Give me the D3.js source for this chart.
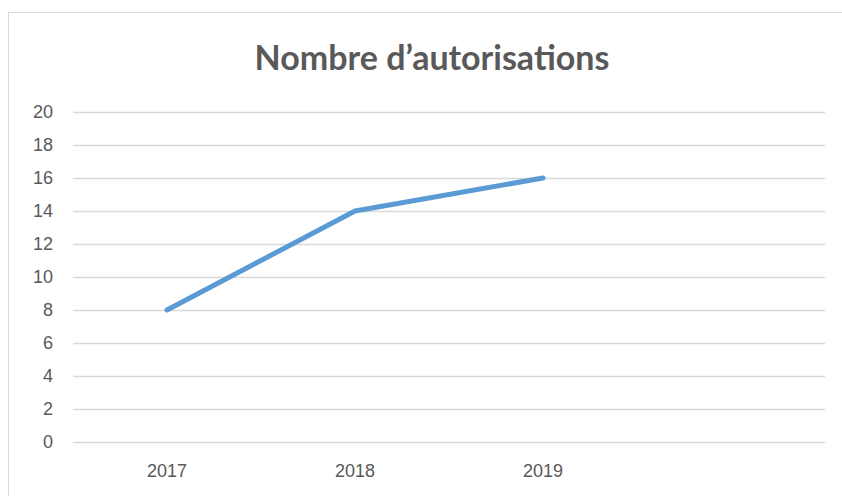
<!DOCTYPE html>
<html>
<head>
<meta charset="utf-8">
<script src="https://cdn.jsdelivr.net/npm/d3@7"></script>
<style>
  body { margin: 0; background: #fff; }
  svg { display: block; font-family: Lato, "Open Sans", sans-serif; }
</style>
</head>
<body>
<svg id="chart" width="842" height="496"></svg>
<script>
const title = "Nombre d\u2019autorisations"
const categories = ["2017", "2018", "2019", ""]
const values = [8, 14, 16]
const yTicks = [0, 2, 4, 6, 8, 10, 12, 14, 16, 18, 20]

const svg = d3.select("#chart")
const margin = {top: 112, right: 17, bottom: 54, left: 73}
const width = 842 - margin.left - margin.right
const height = 496 - margin.top - margin.bottom

// chart frame
svg.append("rect")
  .attr("x", 8.5).attr("y", 12.5)
  .attr("width", 900).attr("height", 600)
  .attr("fill", "#fff")
  .attr("stroke", "#d9d9d9")

svg.append("text")
  .attr("x", 432).attr("y", 70)
  .attr("text-anchor", "middle")
  .attr("font-size", 34)
  .attr("font-weight", "bold")
  .attr("fill", "#595959")
  .text(title)

const g = svg.append("g").attr("transform", `translate(${margin.left},${margin.top})`)

const x = d3.scaleBand().domain(categories.map((c, i) => i)).range([0, width])
const y = d3.scaleLinear().domain([0, 20]).range([height, 0])

const yAxis = g.append("g").call(d3.axisLeft(y).tickValues(yTicks).tickSize(-width).tickPadding(20))
yAxis.select(".domain").remove()
yAxis.selectAll(".tick line").attr("stroke", "#d9d9d9").attr("stroke-width", 1.5)
yAxis.selectAll(".tick text").attr("fill", "#595959").attr("font-size", 18).attr("font-family", "inherit")

const xAxis = g.append("g").attr("transform", `translate(0,${height})`)
  .call(d3.axisBottom(x).tickFormat(i => categories[i]).tickSize(0).tickPadding(22))
xAxis.select(".domain").remove()
xAxis.selectAll(".tick text").attr("fill", "#595959").attr("font-size", 18).attr("font-family", "inherit")

const line = d3.line()
  .x((d, i) => x(i) + x.bandwidth() / 2)
  .y(d => y(d))

g.append("path")
  .datum(values)
  .attr("d", line)
  .attr("fill", "none")
  .attr("stroke", "#5b9bd5")
  .attr("stroke-width", 5)
  .attr("stroke-linejoin", "round")
  .attr("stroke-linecap", "round")
</script>
</body>
</html>
